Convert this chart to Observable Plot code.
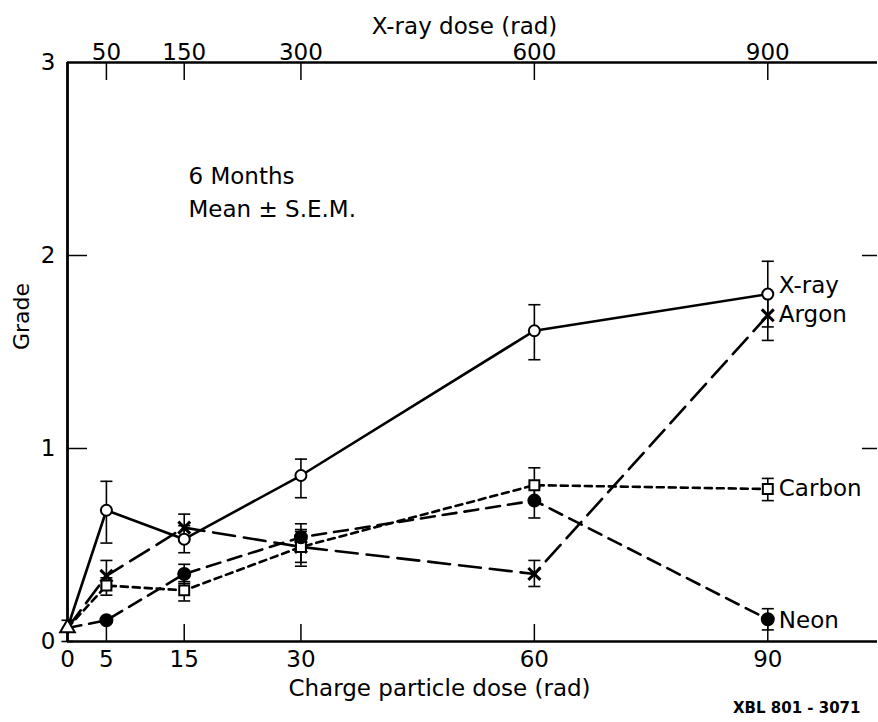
<!DOCTYPE html>
<html><head><meta charset="utf-8">
<script src="https://cdn.jsdelivr.net/npm/d3@7"></script>
<script src="https://cdn.jsdelivr.net/npm/@observablehq/plot@0.6"></script>
<style>body{margin:0;background:#fff} svg{display:block}</style>
</head><body><div id="chart"></div>
<script>
// ---- data ----
const doses = [0, 5, 15, 30, 60, 90];              // charge particle dose (rad)
const bottomTicks = [0, 5, 15, 30, 60, 90];
const xrayTicks = [50, 150, 300, 600, 900];         // X-ray dose (rad), = 10 x particle dose
const gradeTicks = [0, 1, 2, 3];
const seriesNames = ["X-ray", "Argon", "Carbon", "Neon"];

const controlGrade = 0.07, controlLo = 0.0, controlHi = 0.11;

const xrayGrade   = [0.07, 0.68, 0.53, 0.86, 1.61, 1.80];
const xrayLo      = [null, 0.51, 0.46, 0.745, 1.46, 1.63];
const xrayHi      = [null, 0.83, 0.60, 0.945, 1.745, 1.97];

const argonGrade  = [0.07, 0.34, 0.59, 0.49, 0.35, 1.69];
const argonLo     = [null, 0.28, 0.53, 0.41, 0.285, 1.56];
const argonHi     = [null, 0.42, 0.66, 0.57, 0.42, 1.80];

const carbonGrade = [0.07, 0.29, 0.265, 0.49, 0.81, 0.79];
const carbonLo    = [null, 0.24, 0.21, 0.39, 0.72, 0.73];
const carbonHi    = [null, 0.33, 0.31, 0.61, 0.90, 0.845];

const neonGrade   = [0.07, 0.11, 0.35, 0.54, 0.73, 0.115];
const neonLo      = [null, null, 0.30, 0.47, 0.64, 0.06];
const neonHi      = [null, null, 0.40, 0.58, 0.80, 0.17];

// ---- build table ----
const seriesData = {
  "X-ray": [xrayGrade, xrayLo, xrayHi],
  "Argon": [argonGrade, argonLo, argonHi],
  "Carbon": [carbonGrade, carbonLo, carbonHi],
  "Neon": [neonGrade, neonLo, neonHi]
};
const rows = [];
for (const s of seriesNames) {
  const [g, lo, hi] = seriesData[s];
  doses.forEach((d, i) => rows.push({series: s, dose: d, grade: g[i], lo: lo[i], hi: hi[i], i}));
}
const errRows = rows.filter(r => r.lo != null && r.hi != null);
errRows.push({series: "control", dose: 0, grade: controlGrade, lo: controlLo, hi: controlHi});
const pts = rows.filter(r => r.i > 0);

// ---- styles ----
const W = 878, H = 722, mL = 67, mR = 1, mT = 62, mB = 81;
const plotW = W - mL - mR, plotH = H - mT - mB;
const style = {
  "X-ray":  {dash: null,   symbol: "circle", fill: "#fff", r: 5.5, labelDy: -8},
  "Argon":  {dash: "22,9", symbol: "times",  fill: "none", r: 5.5, labelDy: -1},
  "Carbon": {dash: "7,5",  symbol: "square", fill: "#fff", r: 5.6, labelDy: 0},
  "Neon":   {dash: "14,8", symbol: "circle", fill: "#000", r: 6,   labelDy: 1}
};
const capSymbol = {draw(ctx, size) { const w = Math.sqrt(size); ctx.moveTo(-w, 0); ctx.lineTo(w, 0); }};

const marks = [
  // frame
  Plot.ruleX([0], {stroke: "#000", strokeWidth: 2.8}),
  Plot.ruleY([0, 3], {stroke: "#000", strokeWidth: 2.5}),
  // inward ticks
  Plot.ruleX(bottomTicks.filter(d => d > 0), {x: d => d, insetTop: plotH - 17, strokeWidth: 1.5}),
  Plot.ruleX(xrayTicks, {x: d => d / 10, insetBottom: plotH - 18, strokeWidth: 1.5}),
  Plot.ruleY(gradeTicks.filter(d => d > 0 && d < 3), {y: d => d, insetRight: plotW - 20, strokeWidth: 1.5}),
  Plot.ruleY(gradeTicks.filter(d => d > 0 && d < 3), {y: d => d, insetLeft: plotW - 15, strokeWidth: 1.5}),
  // axes labels
  Plot.axisX(bottomTicks, {anchor: "bottom", tickSize: 0, tickPadding: 9, label: null, fontSize: 23}),
  Plot.axisX(xrayTicks.map(d => d / 10), {anchor: "top", tickSize: 0, tickPadding: 3, tickFormat: d => Math.round(d * 10), label: null, fontSize: 23}),
  Plot.axisY(gradeTicks, {anchor: "left", tickSize: 0, tickPadding: 12, tickFormat: d => String(d), label: null, fontSize: 23}),
  Plot.text(["X-ray dose (rad)"], {frameAnchor: "top", dx: -8, dy: -45, fontSize: 23}),
  Plot.text(["Charge particle dose (rad)"], {frameAnchor: "bottom", dx: -33, dy: 54, fontSize: 23}),
  Plot.text(["Grade"], {frameAnchor: "left", dx: -46, dy: -2, rotate: -90, fontSize: 22}),
  Plot.text(["6 Months"], {frameAnchor: "top-left", dx: 121, dy: 105, textAnchor: "start", fontSize: 23}),
  Plot.text(["Mean ± S.E.M."], {frameAnchor: "top-left", dx: 121, dy: 138, textAnchor: "start", fontSize: 23}),
  Plot.text(["XBL 801 - 3071"], {frameAnchor: "bottom-right", dx: -17, dy: 71, textAnchor: "end", fontSize: 15, fontWeight: "bold"}),
  // error bars
  Plot.ruleX(errRows, {x: "dose", y1: "lo", y2: "hi", stroke: "#000", strokeWidth: 1.6}),
  Plot.dot(errRows, {x: "dose", y: "lo", symbol: capSymbol, r: 3.4, stroke: "#000", strokeWidth: 1.6}),
  Plot.dot(errRows, {x: "dose", y: "hi", symbol: capSymbol, r: 3.4, stroke: "#000", strokeWidth: 1.6})
];
for (const s of seriesNames) {
  const st = style[s];
  const data = rows.filter(r => r.series === s);
  marks.push(Plot.line(data, {x: "dose", y: "grade", stroke: "#000", strokeWidth: 2.6, strokeDasharray: st.dash}));
}
marks.push(Plot.dot([controlGrade], {x: 0, y: d => d, symbol: "triangle2", r: 7, fill: "#fff", stroke: "#000", strokeWidth: 2}));
for (const s of seriesNames) {
  const st = style[s];
  const data = pts.filter(r => r.series === s);
  marks.push(Plot.dot(data, {x: "dose", y: "grade", symbol: st.symbol, r: st.r, fill: st.fill, stroke: "#000", strokeWidth: s === "Argon" ? 3 : 2}));
  marks.push(Plot.text(data.filter(r => r.i === doses.length - 1), {x: "dose", y: "grade", text: "series", dx: 11, dy: st.labelDy, textAnchor: "start", fontSize: 23}));
}

const chart = Plot.plot({
  width: W, height: H, marginLeft: mL, marginRight: mR, marginTop: mT, marginBottom: mB,
  x: {domain: [0, 104.1]},
  y: {domain: [0, 3]},
  style: {fontFamily: "DejaVu Sans", fontSize: "23px", color: "#000", background: "#fff"},
  marks
});
document.getElementById("chart").appendChild(chart);
</script>
</body></html>
